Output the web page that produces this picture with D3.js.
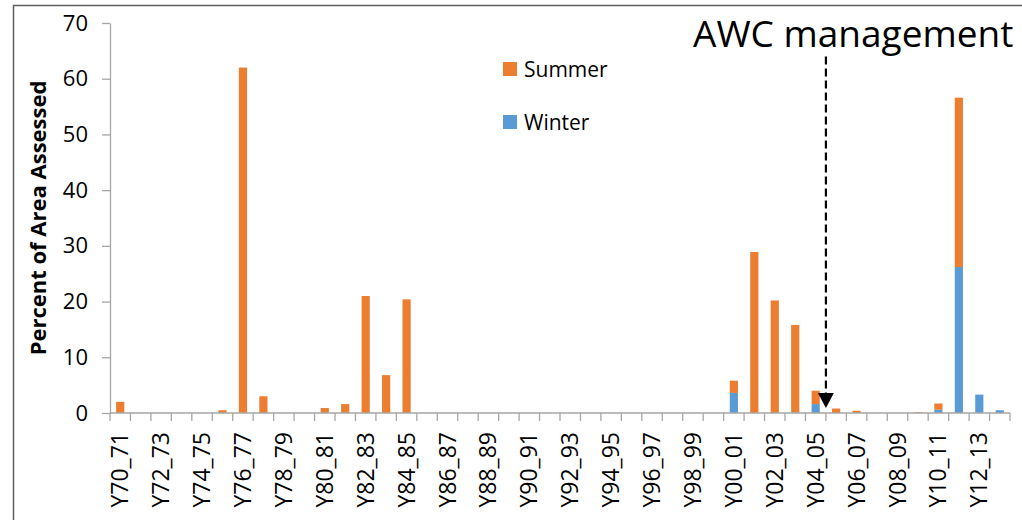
<!DOCTYPE html>
<html>
<head>
<meta charset="utf-8">
<script src="https://cdn.jsdelivr.net/npm/d3@7"></script>
<style>
  body { margin: 0; background: #fff; }
  svg { display: block; font-family: "Open Sans", sans-serif; }
</style>
</head>
<body>
<div id="chart"></div>
<script>

var width = 1022,
    height = 520;

// seasons, 1970/71 .. 2013/14
var seasons = [];
for (var yr = 70; yr < 114; yr++) {
  var a = yr % 100, b = (yr + 1) % 100;
  seasons.push("Y" + (a < 10 ? "0" : "") + a + "_" + (b < 10 ? "0" : "") + b);
}

var winter = [0, 0, 0, 0, 0, 0, 0, 0, 0, 0,
              0, 0, 0, 0, 0, 0, 0, 0, 0, 0,
              0, 0, 0, 0, 0, 0, 0, 0, 0, 0,
              3.6, 0, 0, 0.1, 1.6, 0, 0, 0, 0, 0,
              0.6, 26.2, 3.3, 0.5];

var summer = [2.0, 0, 0, 0, 0, 0.5, 62.0, 3.0, 0, 0,
              0.9, 1.6, 21.0, 6.8, 20.4, 0, 0, 0, 0, 0,
              0, 0, 0, 0, 0, 0, 0, 0, 0, 0,
              2.2, 28.9, 20.2, 15.7, 2.4, 0.8, 0.4, 0, 0, 0.15,
              1.1, 30.4, 0, 0];

var yTicks = [0, 10, 20, 30, 40, 50, 60, 70];
var seriesNames = ["Summer", "Winter"];
var colors = ["#ED7D31", "#5B9BD5"];

var svg = d3.select("#chart").append("svg")
    .attr("width", width)
    .attr("height", height);

// outer frame
svg.append("rect")
    .attr("x", 13.5).attr("y", 5.5)
    .attr("width", 1040).attr("height", 600)
    .attr("fill", "none")
    .attr("stroke", "#5f5f5f")
    .attr("stroke-width", 1.5);

var x = d3.scaleBand()
    .domain(seasons)
    .range([110, 1010])
    .padding(0);

var y = d3.scaleLinear()
    .domain([0, 70])
    .range([413, 23]);

var barW = x.bandwidth() * 0.4;

// stacked bars: winter at bottom, summer on top
var rows = seasons.map(function(s, i) { return {season: s, winter: winter[i], summer: summer[i]}; });

svg.append("g").selectAll("rect")
    .data(rows)
    .enter().append("rect")
    .attr("x", function(d) { return x(d.season) + (x.bandwidth() - barW) / 2; })
    .attr("width", barW)
    .attr("y", function(d) { return y(d.winter); })
    .attr("height", function(d) { return y(0) - y(d.winter); })
    .attr("fill", colors[1]);

svg.append("g").selectAll("rect")
    .data(rows)
    .enter().append("rect")
    .attr("x", function(d) { return x(d.season) + (x.bandwidth() - barW) / 2; })
    .attr("width", barW)
    .attr("y", function(d) { return y(d.winter + d.summer); })
    .attr("height", function(d) { return y(d.winter) - y(d.winter + d.summer); })
    .attr("fill", colors[0]);

// y axis
var yAxis = svg.append("g")
    .attr("transform", "translate(110,0)")
    .call(d3.axisLeft(y).tickValues(yTicks).tickSize(8).tickPadding(14).tickSizeOuter(0));
yAxis.select(".domain").attr("stroke", "#a6a6a6").attr("stroke-width", 1.3);
yAxis.selectAll(".tick line").attr("stroke", "#a6a6a6").attr("stroke-width", 1.3);
yAxis.selectAll("text")
    .attr("font-size", 22)
    .attr("font-family", "Open Sans, sans-serif")
    .attr("fill", "#000");

// x axis
svg.append("line")
    .attr("x1", 110).attr("x2", 1010)
    .attr("y1", y(0)).attr("y2", y(0))
    .attr("stroke", "#a6a6a6").attr("stroke-width", 1.3);

svg.append("g").selectAll("line")
    .data(seasons.concat(["end"]))
    .enter().append("line")
    .attr("x1", function(d, i) { return i < seasons.length ? x(d) : x.range()[1]; })
    .attr("x2", function(d, i) { return i < seasons.length ? x(d) : x.range()[1]; })
    .attr("y1", y(0)).attr("y2", y(0) + 8)
    .attr("stroke", "#a6a6a6").attr("stroke-width", 1.3);

svg.append("g").selectAll("text")
    .data(seasons.filter(function(d, i) { return i % 2 === 0; }))
    .enter().append("text")
    .attr("transform", function(d) {
      return "translate(" + (x(d) + x.bandwidth() / 2 + 8) + "," + 432 + ") rotate(-90)";
    })
    .attr("text-anchor", "end")
    .attr("font-size", 23)
    .attr("fill", "#000")
    .text(function(d) { return d; });

// y title
svg.append("text")
    .attr("transform", "translate(46," + (y(35)) + ") rotate(-90)")
    .attr("text-anchor", "middle")
    .attr("font-size", 22)
    .attr("font-weight", "bold")
    .attr("fill", "#000")
    .text("Percent of Area Assessed");

// legend
var legend = svg.append("g").selectAll("g")
    .data(seriesNames)
    .enter().append("g")
    .attr("transform", function(d, i) { return "translate(503," + (62 + i * 53) + ")"; });

legend.append("rect")
    .attr("width", 14).attr("height", 14)
    .attr("fill", function(d, i) { return colors[i]; });

legend.append("text")
    .attr("x", 21).attr("y", 14.5)
    .attr("font-size", 21)
    .attr("fill", "#000")
    .text(function(d) { return d; });

// AWC management marker
var mx = x("Y05_06");
svg.append("line")
    .attr("x1", mx).attr("x2", mx)
    .attr("y1", y(64)).attr("y2", y(3.6))
    .attr("stroke", "#000")
    .attr("stroke-width", 2.2)
    .attr("stroke-dasharray", "8,4");

svg.append("path")
    .attr("d", "M" + (mx - 8) + "," + y(3.6) + "L" + (mx + 8) + "," + y(3.6) + "L" + mx + "," + y(0.9) + "Z")
    .attr("fill", "#000");

svg.append("text")
    .attr("x", 693).attr("y", 47)
    .attr("font-size", 37)
    .attr("fill", "#000")
    .text("AWC management");

</script>
</body>
</html>
